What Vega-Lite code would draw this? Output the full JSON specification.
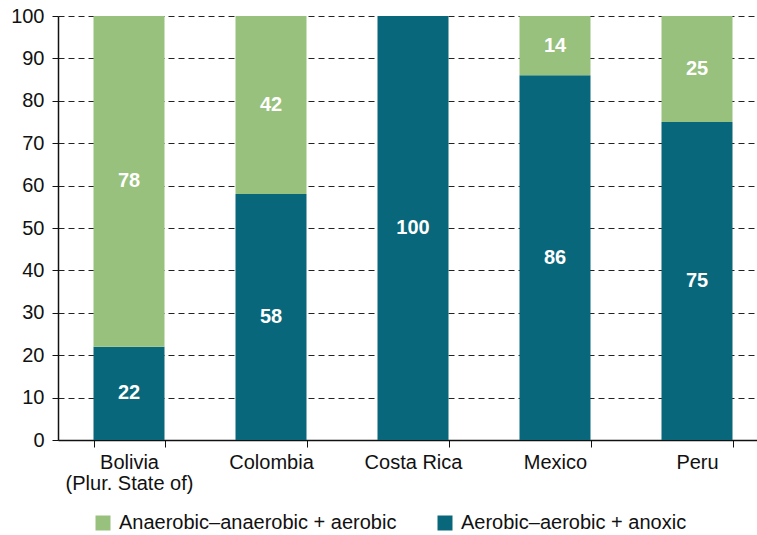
{
  "$schema": "https://vega.github.io/schema/vega-lite/v6.json",
  "autosize": {"type": "none"},
  "padding": {"left": 58, "top": 16, "right": 0, "bottom": 95},
  "width": 710,
  "height": 424,
  "background": "white",
  "config": {
    "font": "Liberation Sans",
    "view": {"stroke": null},
    "axis": {"labelFont": "Liberation Sans", "labelColor": "#111", "labelFontSize": 20, "domainColor": "#111", "tickColor": "#111"}
  },
  "data": {
    "values": [
      {"country": "Bolivia (Plur. State of)", "type": "Aerobic–aerobic + anoxic", "ord": 1, "value": 22},
      {"country": "Bolivia (Plur. State of)", "type": "Anaerobic–anaerobic + aerobic", "ord": 2, "value": 78},
      {"country": "Colombia", "type": "Aerobic–aerobic + anoxic", "ord": 1, "value": 58},
      {"country": "Colombia", "type": "Anaerobic–anaerobic + aerobic", "ord": 2, "value": 42},
      {"country": "Costa Rica", "type": "Aerobic–aerobic + anoxic", "ord": 1, "value": 100},
      {"country": "Mexico", "type": "Aerobic–aerobic + anoxic", "ord": 1, "value": 86},
      {"country": "Mexico", "type": "Anaerobic–anaerobic + aerobic", "ord": 2, "value": 14},
      {"country": "Peru", "type": "Aerobic–aerobic + anoxic", "ord": 1, "value": 75},
      {"country": "Peru", "type": "Anaerobic–anaerobic + aerobic", "ord": 2, "value": 25}
    ]
  },
  "transform": [
    {"stack": "value", "groupby": ["country"], "sort": [{"field": "ord", "order": "ascending"}], "as": ["v0", "v1"]},
    {"calculate": "(datum.v0 + datum.v1) / 2", "as": "mid"}
  ],
  "encoding": {
    "x": {
      "field": "country", "type": "nominal", "sort": null, "title": null,
      "scale": {"paddingInner": 0.5, "paddingOuter": 0.25},
      "axis": {
        "labelAngle": 0, "tickBand": "extent", "tickSize": 7, "labelPadding": 5, "domainWidth": 1.5,
        "labelExpr": "datum.label == 'Bolivia (Plur. State of)' ? ['Bolivia', '(Plur. State of)'] : datum.label",
        "labelLineHeight": 21
      }
    }
  },
  "layer": [
    {
      "mark": {"type": "bar"},
      "encoding": {
        "y": {"field": "v0", "type": "quantitative", "title": null,
          "scale": {"domain": [0, 100], "nice": false},
          "axis": {"values": [0,10,20,30,40,50,60,70,80,90,100], "grid": true, "gridDash": [6, 4], "gridColor": "#222", "gridWidth": 1, "tickSize": 6, "labelPadding": 8, "domainWidth": 1.5}
        },
        "y2": {"field": "v1"},
        "color": {
          "field": "type", "type": "nominal", "title": null,
          "scale": {"domain": ["Anaerobic–anaerobic + aerobic", "Aerobic–aerobic + anoxic"], "range": ["#98c17d", "#09677b"]},
          "legend": {
            "orient": "none", "legendX": 35, "legendY": 497, "direction": "horizontal",
            "symbolType": "square", "symbolSize": 225, "symbolStrokeWidth": 0, "symbolOpacity": 1,
            "labelFontSize": 20, "labelFont": "Liberation Sans", "labelColor": "#111", "labelLimit": 400,
            "columnPadding": 38, "labelOffset": 6
          }
        }
      }
    },
    {
      "mark": {"type": "text", "color": "white", "fontWeight": "bold", "fontSize": 20, "baseline": "middle"},
      "encoding": {
        "y": {"field": "mid", "type": "quantitative"},
        "text": {"field": "value", "type": "quantitative"}
      }
    }
  ]
}
